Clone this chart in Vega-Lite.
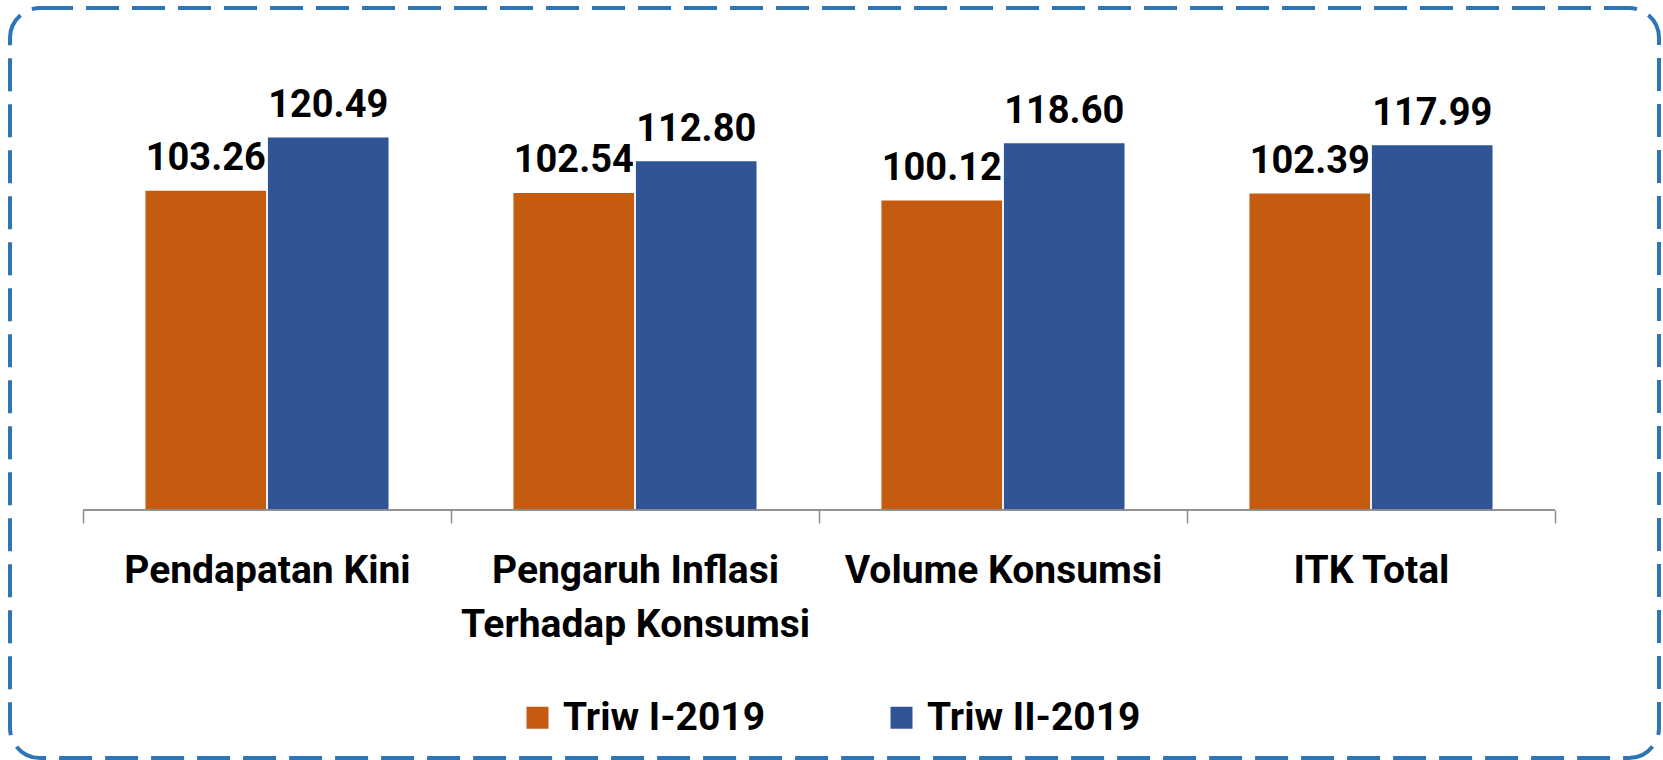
{
  "$schema": "https://vega.github.io/schema/vega-lite/v6.json",
  "width": 1649,
  "height": 750,
  "padding": {"left": 10, "top": 8, "right": 4, "bottom": 2},
  "autosize": {"type": "none"},
  "background": "white",
  "config": {
    "view": {"stroke": "#2E75B6", "strokeWidth": 4, "strokeDash": [33, 13], "cornerRadius": 30},
    "font": "Roboto"
  },
  "data": {
    "values": [
      {"cat": "Pendapatan Kini", "series": "Triw I-2019", "value": 103.26},
      {"cat": "Pendapatan Kini", "series": "Triw II-2019", "value": 120.49},
      {"cat": "Pengaruh Inflasi Terhadap Konsumsi", "series": "Triw I-2019", "value": 102.54},
      {"cat": "Pengaruh Inflasi Terhadap Konsumsi", "series": "Triw II-2019", "value": 112.80},
      {"cat": "Volume Konsumsi", "series": "Triw I-2019", "value": 100.12},
      {"cat": "Volume Konsumsi", "series": "Triw II-2019", "value": 118.60},
      {"cat": "ITK Total", "series": "Triw I-2019", "value": 102.39},
      {"cat": "ITK Total", "series": "Triw II-2019", "value": 117.99}
    ]
  },
  "layer": [
    {
      "mark": {"type": "bar"},
      "encoding": {
        "x": {
          "field": "cat", "type": "nominal", "sort": null,
          "scale": {"paddingInner": 0, "paddingOuter": 0.2405, "align": 0.4124},
          "axis": {
            "title": null, "domain": false, "ticks": true, "tickBand": "extent",
            "tickSize": 13, "tickColor": "#8C8C8C", "tickWidth": 1.5,
            "labelFont": "Roboto",
            "labelFontSize": 39, "labelFontWeight": "bold", "labelColor": "#000000",
            "labelAngle": 0, "labelBaseline": "alphabetic", "labelPadding": 59,
            "labelLineHeight": 54, "labelLimit": 500, "labelOverlap": false,
            "labelFlush": false, "offset": -248,
            "labelExpr": "datum.label == 'Pengaruh Inflasi Terhadap Konsumsi' ? ['Pengaruh Inflasi', 'Terhadap Konsumsi'] : datum.label"
          }
        },
        "xOffset": {
          "field": "series", "type": "nominal", "sort": ["Triw I-2019", "Triw II-2019"],
          "scale": {"paddingInner": 0.015, "paddingOuter": 0.51}
        },
        "y": {
          "field": "value", "type": "quantitative",
          "scale": {"domain": [-80.21, 162.35], "nice": false, "zero": false},
          "axis": null
        },
        "color": {
          "field": "series", "type": "nominal",
          "scale": {"domain": ["Triw I-2019", "Triw II-2019"], "range": ["#C55A11", "#2F5597"]},
          "legend": {
            "title": null, "orient": "none", "legendX": 508, "legendY": 690,
            "direction": "horizontal", "symbolType": "square", "symbolSize": 484,
            "symbolStrokeWidth": 0, "labelFontSize": 39, "labelFontWeight": "bold",
            "labelFont": "Roboto",
            "labelColor": "#000000", "labelOffset": 6, "columnPadding": 116,
            "labelLimit": 500, "padding": 0
          }
        }
      }
    },
    {
      "mark": {"type": "text", "baseline": "alphabetic", "dy": -20.5, "fontSize": 38, "fontWeight": "bold", "font": "Roboto", "color": "#000000"},
      "encoding": {
        "x": {"field": "cat", "type": "nominal", "sort": null},
        "xOffset": {"field": "series", "type": "nominal", "sort": ["Triw I-2019", "Triw II-2019"]},
        "y": {"field": "value", "type": "quantitative"},
        "text": {"field": "value", "type": "quantitative", "format": ".2f"}
      }
    },
    {
      "mark": {"type": "rule", "color": "#8C8C8C", "strokeWidth": 1.5},
      "encoding": {
        "x": {"field": "cat", "type": "nominal", "sort": null, "bandPosition": 0},
        "x2": {"field": "cat", "bandPosition": 1},
        "y": {"datum": 0}
      }
    }
  ]
}
